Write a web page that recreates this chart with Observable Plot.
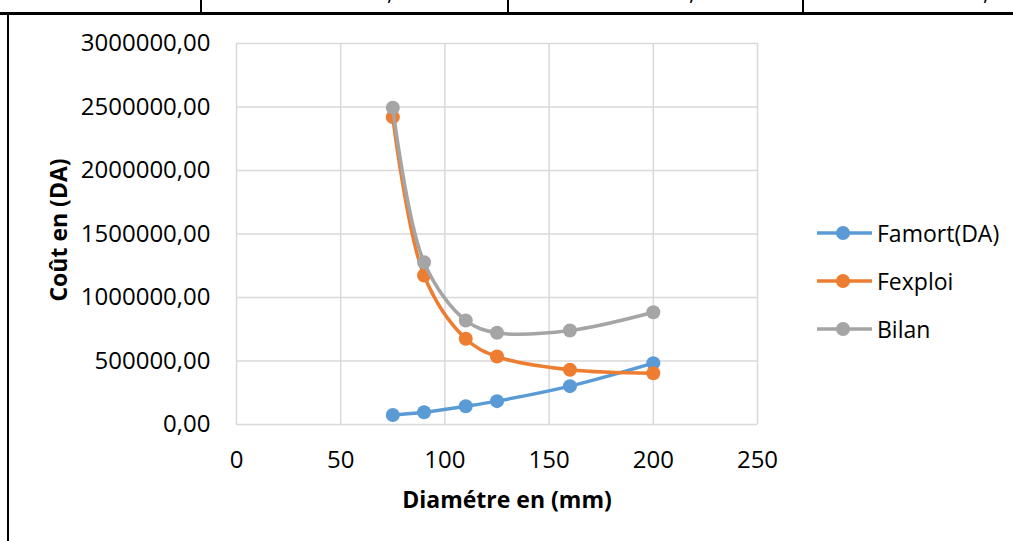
<!DOCTYPE html>
<html>
<head>
<meta charset="utf-8">
<script src="https://cdn.jsdelivr.net/npm/d3@7"></script>
<script src="https://cdn.jsdelivr.net/npm/@observablehq/plot@0.6"></script>
<style>
  html, body { margin: 0; padding: 0; background: #fff; }
  body { width: 1013px; height: 541px; overflow: hidden; position: relative; font-family: "Open Sans", sans-serif; }
  #chart { position: absolute; left: 0; top: 0; }
  .rule { position: absolute; background: #000; }
  .comma { position: absolute; top: -20px; font-size: 23px; color: #000; line-height: 23px; }
  #legend { position: absolute; left: 0; top: 0; }
  .leg { position: absolute; left: 817px; height: 30px; display: flex; align-items: center; font-size: 23px; color: #000; white-space: nowrap; }
  .leg svg { margin-right: 5px; }
</style>
</head>
<body>
<div id="chart"></div>
<div class="rule" style="left:0;top:12px;width:1013px;height:3px"></div>
<div class="rule" style="left:200px;top:0;width:2px;height:13px"></div>
<div class="rule" style="left:507px;top:0;width:2px;height:13px"></div>
<div class="rule" style="left:802px;top:0;width:2px;height:13px"></div>
<div class="rule" style="left:7px;top:13px;width:2px;height:528px"></div>
<span class="comma" style="left:387px">,</span>
<span class="comma" style="left:689px">,</span>
<span class="comma" style="left:983px">,</span>
<div id="legend"></div>
<script>
const diametres = [75, 90, 110, 125, 160, 200];
const famort = [75000, 97000, 144000, 184000, 302000, 483000];
const fexploi = [2420000, 1173000, 675000, 535000, 431000, 404000];
const bilan = [2494000, 1278000, 819000, 722000, 740000, 884000];
const seriesNames = ["Famort(DA)", "Fexploi", "Bilan"];
const seriesColors = ["#5B9BD5", "#ED7D31", "#A5A5A5"];
const xTicks = [0, 50, 100, 150, 200, 250];
const yTicks = [0, 500000, 1000000, 1500000, 2000000, 2500000, 3000000];
const xTitle = "Diamétre en (mm)";
const yTitle = "Coût en (DA)";

const seriesValues = [famort, fexploi, bilan];
const rows = seriesValues.map((vals, i) => diametres.map((d, j) => ({ d, v: vals[j], s: seriesNames[i] })));
const fmt = v => v.toFixed(2).replace(".", ",");

const marks = [
  Plot.gridX(xTicks, { stroke: "#d9d9d9", strokeOpacity: 1, strokeWidth: 1.5 }),
  Plot.gridY(yTicks, { stroke: "#d9d9d9", strokeOpacity: 1, strokeWidth: 1.5 }),
  Plot.axisX({ ticks: xTicks, tickSize: 0, tickPadding: 26, fontSize: 24, tickFormat: d => String(d) }),
  Plot.axisY({ ticks: yTicks, tickSize: 0, tickPadding: 26, fontSize: 24, tickFormat: fmt }),
  Plot.text([yTitle], { frameAnchor: "left", dx: -177, dy: -4, rotate: -90, textAnchor: "middle", lineAnchor: "middle", fontSize: 23, fontWeight: "bold", fill: "#000" }),
  Plot.text([xTitle], { frameAnchor: "bottom", dx: 10, dy: 76, textAnchor: "middle", lineAnchor: "middle", fontSize: 23, fontWeight: "bold", fill: "#000" })
];
rows.forEach((data, i) => {
  marks.push(Plot.line(data, { x: "d", y: "v", stroke: seriesColors[i], strokeWidth: 3.5, curve: "catmull-rom" }));
  marks.push(Plot.dot(data, { x: "d", y: "v", fill: seriesColors[i], r: 7 }));
});

const chart = Plot.plot({
  width: 1013,
  height: 541,
  marginLeft: 236,
  marginRight: 256,
  marginTop: 43,
  marginBottom: 117,
  style: { fontFamily: "Open Sans, sans-serif", color: "#000", background: "transparent" },
  x: { domain: [0, 250], label: null },
  y: { domain: [0, 3000000], label: null },
  marks
});
document.getElementById("chart").appendChild(chart);

const legendTops = [233, 281, 329];
const legend = document.getElementById("legend");
seriesNames.forEach((name, i) => {
  const div = document.createElement("div");
  div.className = "leg";
  div.style.top = (legendTops[i] - 15) + "px";
  div.innerHTML = `<svg width="55" height="20"><line x1="0" y1="10" x2="55" y2="10" stroke="${seriesColors[i]}" stroke-width="3.5"/><circle cx="26" cy="10" r="7" fill="${seriesColors[i]}"/></svg><span>${name}</span>`;
  legend.appendChild(div);
});
</script>
</body>
</html>
